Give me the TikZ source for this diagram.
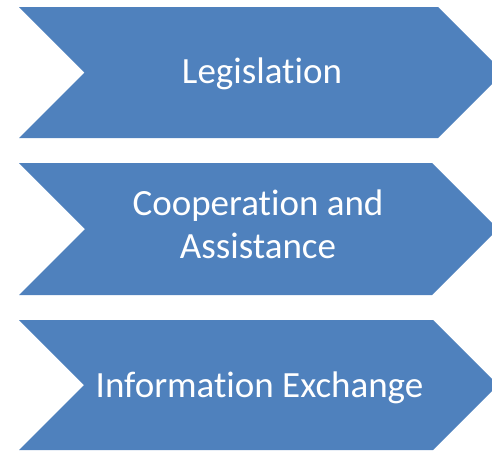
\documentclass[tikz,border=0pt]{standalone}
\usepackage{fontspec}
\setmainfont[Ligatures={NoCommon}]{Carlito}
\definecolor{chevblue}{HTML}{4F81BD}
\begin{document}
\begin{tikzpicture}[
    x=1pt, y=-1pt,
    chevron/.style={fill=chevblue, draw=none},
    label/.style={text=white, inner sep=0pt, align=center, anchor=base, font=\fontsize{37}{43}\selectfont}
]
\useasboundingbox (0,0) rectangle (492,450);
\clip (0,0) rectangle (492,450);
\fill[chevron] (19,7) -- (438,7) -- (503.5,72.5) -- (438,138) -- (19,138) -- (84.5,72.5) -- cycle;
\fill[chevron] (19,163) -- (432,163) -- (498,229) -- (432,295) -- (19,295) -- (85,229) -- cycle;
\fill[chevron] (19,320) -- (433,320) -- (498,385) -- (433,450) -- (19,450) -- (84,385) -- cycle;

\node[label] (leg) at (262,83.5) {Legislation};
\node[label] (coop) at (258,258) {Cooperation and\\Assistance};
\node[label] (info) at (259.5,397.5) {Information Exchange};
\end{tikzpicture}
\end{document}
